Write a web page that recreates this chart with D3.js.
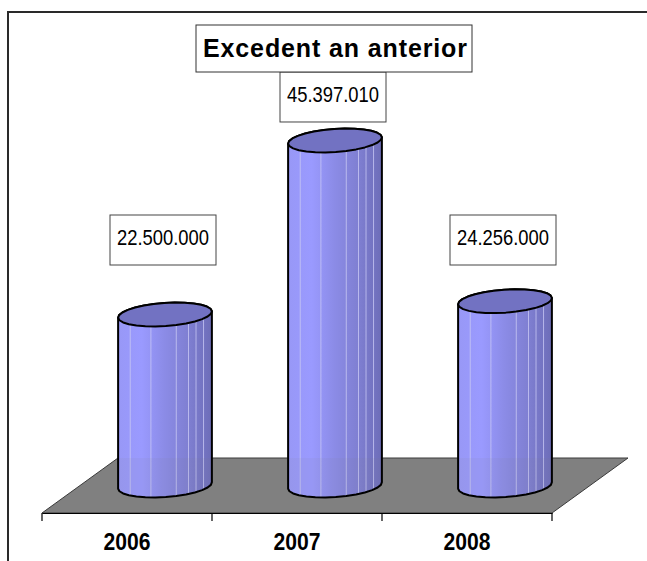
<!DOCTYPE html>
<meta charset="utf-8">
<style>
  body { margin: 0; background: #fff; }
  text { font-family: "Liberation Sans", Arial, sans-serif; }
</style>
<body>
<div id="chart"></div>
<script src="https://d3js.org/d3.v7.min.js"></script>
<script>

// Data
var title = "Excedent an anterior";
var years = ["2006", "2007", "2008"];
var values = [22500000, 45397010, 24256000];
var valueLabels = ["22.500.000", "45.397.010", "24.256.000"];

// Page and 3D layout
var W = 647, H = 561;
var frontY = 513;              // front edge of the floor
var depthX = 76, depthY = -55; // floor depth offset
var radius = 47, ry = 11.5, tilt = -4 * Math.PI / 180;

var svg = d3.select("#chart").append("svg")
  .attr("width", W).attr("height", H);

var defs = svg.append("defs");
var grad = defs.append("linearGradient").attr("id", "body")
  .attr("x1", "0%").attr("x2", "100%").attr("y1", "0%").attr("y2", "0%");
[["0%", "#9898f6"], ["25%", "#9a9aff"], ["50%", "#8b8be6"], ["75%", "#7f7fd2"], ["100%", "#6d6db8"]]
  .forEach(function(s) { grad.append("stop").attr("offset", s[0]).attr("stop-color", s[1]); });

// outer frame (cropped on the right and bottom)
svg.append("path").attr("d", "M8,561 L8,12 L647,12")
  .attr("fill", "none").attr("stroke", "#2a2a2a").attr("stroke-width", 2);

// Scales
var x = d3.scaleBand().domain(years).range([42, 552]).padding(0);
var y = d3.scaleLinear().domain([0, 50000000]).range([frontY + depthY / 2, frontY + depthY / 2 - 380]);

// Floor
var x0 = x.range()[0], x1 = x.range()[1];
svg.append("path")
  .attr("d", "M" + x0 + "," + frontY + " L" + x1 + "," + frontY +
    " L" + (x1 + depthX) + "," + (frontY + depthY) + " L" + (x0 + depthX) + "," + (frontY + depthY) + "Z")
  .attr("fill", "#808080").attr("stroke", "#3a3a3a").attr("stroke-width", 1);

// Category axis on the front edge
var axis = svg.append("g").attr("transform", "translate(0," + frontY + ")")
  .call(d3.axisBottom(x).tickSize(0).tickFormat(""));
axis.select(".domain").attr("stroke", "#000").attr("stroke-width", 1.2);
var tickXs = years.map(function(d) { return x(d); }).concat([x1]);
axis.selectAll(".sep").data(tickXs).enter().append("line")
  .attr("x1", function(d) { return d; }).attr("x2", function(d) { return d; })
  .attr("y1", 0).attr("y2", 8).attr("stroke", "#000").attr("stroke-width", 1.2);

svg.selectAll(".year").data(years).enter().append("text")
  .attr("x", function(d) { return x(d) + x.bandwidth() / 2; })
  .attr("y", 550)
  .attr("text-anchor", "middle")
  .attr("font-size", 24).attr("font-weight", "bold")
  .attr("textLength", 47).attr("lengthAdjust", "spacingAndGlyphs")
  .text(function(d) { return d; });

// ellipse point helper
function ept(cx, cy, t) {
  var ex = radius * Math.cos(t), ey = ry * Math.sin(t);
  return [cx + ex * Math.cos(tilt) - ey * Math.sin(tilt), cy + ex * Math.sin(tilt) + ey * Math.cos(tilt)];
}
function arcPts(cx, cy, a0, a1, n) {
  var p = [];
  for (var i = 0; i <= n; i++) p.push(ept(cx, cy, a0 + (a1 - a0) * i / n));
  return p;
}

var stripes = [0.13, 0.35, 0.62, 0.75, 0.83, 0.91];
var line = d3.line();

years.forEach(function(yr, i) {
  var cx = x(yr) + x.bandwidth() / 2 + depthX / 2;
  var botY = y(0), topY = y(values[i]);
  var g = svg.append("g");

  // body: bottom front half + top back half
  var body = arcPts(cx, botY, 0, Math.PI, 14).concat(arcPts(cx, topY, Math.PI, 2 * Math.PI, 14));
  var clipId = "clip" + i;
  defs.append("clipPath").attr("id", clipId).append("path").attr("d", line(body) + "Z");
  g.append("path").attr("d", line(body) + "Z").attr("fill", "url(#body)");

  g.selectAll(".stripe").data(stripes).enter().append("line")
    .attr("clip-path", "url(#" + clipId + ")")
    .attr("x1", function(f) { return cx - radius + f * 2 * radius; })
    .attr("x2", function(f) { return cx - radius + f * 2 * radius; })
    .attr("y1", topY).attr("y2", botY + ry + 2)
    .attr("stroke", "#c8c8f4").attr("stroke-width", 1).attr("opacity", 0.8);

  // part of the cylinder in front of the floor top line is slightly duller
  g.append("rect").attr("clip-path", "url(#" + clipId + ")")
    .attr("x", cx - radius - 2).attr("y", frontY + depthY)
    .attr("width", radius * 2 + 4).attr("height", 60)
    .attr("fill", "#808080").attr("opacity", 0.08);

  // outline of sides and bottom
  g.append("path").attr("d", line(body) + "Z")
    .attr("fill", "none").attr("stroke", "#000").attr("stroke-width", 2).attr("stroke-linejoin", "round");

  // top face
  g.append("path").attr("d", line(arcPts(cx, topY, 0, 2 * Math.PI, 28)) + "Z")
    .attr("fill", "#7272c2").attr("stroke", "#000").attr("stroke-width", 2).attr("stroke-linejoin", "round");

  // value label box
  var topEdge = topY - ry;
  var by = Math.min(240, topEdge - 32);
  var lg = svg.append("g");
  lg.append("rect").attr("x", cx - 2 - 53).attr("y", by - 25).attr("width", 106).attr("height", 50)
    .attr("fill", "#fff").attr("stroke", "#444").attr("stroke-width", 1);
  lg.append("text").attr("x", cx - 2).attr("y", by + 5)
    .attr("text-anchor", "middle").attr("font-size", 22)
    .attr("textLength", 92).attr("lengthAdjust", "spacingAndGlyphs")
    .text(valueLabels[i]);
});

// Title box
svg.append("rect").attr("x", 196).attr("y", 25).attr("width", 276).attr("height", 47)
  .attr("fill", "#fff").attr("stroke", "#333").attr("stroke-width", 1);
svg.append("text").attr("x", 335).attr("y", 57)
  .attr("text-anchor", "middle").attr("font-size", 25).attr("font-weight", "bold")
  .attr("textLength", 264).attr("lengthAdjust", "spacing")
  .text(title);
</script>
</body>
